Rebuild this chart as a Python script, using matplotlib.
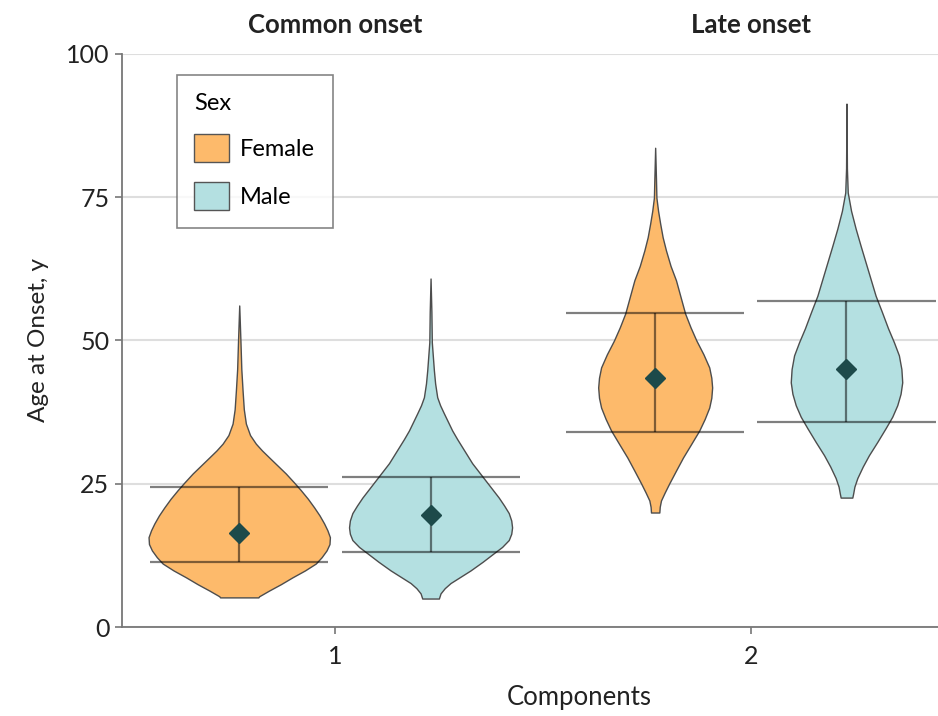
import numpy as np
import matplotlib
matplotlib.use("Agg")
import matplotlib.pyplot as plt
from matplotlib.patches import Patch

plt.rcParams["font.family"] = ["Lato", "DejaVu Sans"]

# components and sexes
components = [1, 2]
component_titles = ["Common onset", "Late onset"]
sexes = ["Female", "Male"]

# mean and error-bar ends (age at onset, y), per component then sex
means = [[16.5, 19.5], [43.4, 45.0]]
lower = [[11.3, 13.2], [34.1, 35.7]]
upper = [[24.4, 26.2], [54.8, 56.9]]

# violin outlines: age levels and half widths (x units)
f1_age = [5.2, 5.4, 6.4, 7.5, 8.7, 9.9, 11.1, 12.2, 13.4, 14.5, 15.7, 16.9, 18.1, 19.5,
          20.9, 22.4, 23.9, 25.3, 26.8, 28.2, 29.6, 30.8, 32.0, 33.5, 35.5, 38.0, 41.3,
          45.0, 49.7, 56.1]
f1_half = [0.046, 0.048, 0.072, 0.100, 0.128, 0.158, 0.184, 0.198, 0.210, 0.217, 0.218,
           0.212, 0.204, 0.193, 0.180, 0.165, 0.148, 0.131, 0.112, 0.092, 0.072, 0.055,
           0.040, 0.026, 0.016, 0.011, 0.008, 0.005, 0.003, 0.0]
m1_age = [5.0, 5.9, 6.8, 7.7, 8.8, 9.9, 11.4, 12.9, 14.0, 15.2, 16.3, 17.4, 18.6, 19.9,
          21.2, 22.6, 24.1, 25.6, 27.1, 28.6, 30.0, 31.4, 32.8, 34.3, 35.8, 37.3, 38.7,
          40.1, 42.5, 44.8, 49.7, 55.0, 60.8]
m1_half = [0.020, 0.024, 0.034, 0.048, 0.072, 0.096, 0.125, 0.152, 0.172, 0.188, 0.194,
           0.196, 0.194, 0.188, 0.177, 0.164, 0.148, 0.132, 0.116, 0.100, 0.088, 0.076,
           0.064, 0.052, 0.042, 0.032, 0.023, 0.016, 0.011, 0.008, 0.003, 0.002, 0.0]
f2_age = [20.0, 21.0, 22.1, 23.5, 25.1, 27.3, 29.6, 32.0, 34.3, 36.3, 38.3, 40.0, 41.8,
          43.5, 45.3, 47.6, 50.0, 52.3, 54.7, 57.6, 60.5, 63.0, 65.7, 68.0, 70.4, 72.6,
          74.9, 78.0, 83.6]
f2_half = [0.010, 0.011, 0.014, 0.023, 0.034, 0.050, 0.067, 0.087, 0.106, 0.119, 0.130,
           0.135, 0.137, 0.135, 0.130, 0.116, 0.099, 0.085, 0.072, 0.061, 0.050, 0.037,
           0.026, 0.018, 0.012, 0.007, 0.003, 0.002, 0.0]
m2_age = [22.6, 23.3, 24.5, 26.0, 28.0, 30.0, 32.3, 34.7, 36.7, 38.7, 40.7, 42.7, 45.0,
          47.4, 49.7, 52.1, 55.0, 57.8, 60.7, 63.6, 66.5, 69.5, 72.6, 75.8, 80.0, 91.3]
m2_half = [0.014, 0.016, 0.019, 0.026, 0.039, 0.054, 0.074, 0.094, 0.110, 0.122, 0.130,
           0.134, 0.132, 0.126, 0.114, 0.100, 0.085, 0.070, 0.058, 0.046, 0.034, 0.022,
           0.011, 0.003, 0.001, 0.0]

violins = [[(f1_age, f1_half), (m1_age, m1_half)],
           [(f2_age, f2_half), (m2_age, m2_half)]]

fills = ["#fdba6b", "#b4e0e1"]
offsets = [-0.23, 0.23]
cap_half = 0.214
text_col = "#222222"

fig = plt.figure(figsize=(9.38, 7.16), dpi=100)
ax = fig.add_axes([0.130, 0.124, 0.870, 0.801])

for ci, comp in enumerate(components):
    for si in range(len(sexes)):
        xc = comp + offsets[si]
        age, half = violins[ci][si]
        age = np.array(age)
        half = np.array(half)
        ax.fill_betweenx(age, xc - half, xc + half, facecolor=fills[si],
                         edgecolor="#4d4d4d", linewidth=1.0, zorder=2)
        # error bar with wide caps
        ax.hlines([lower[ci][si], upper[ci][si]], xc - cap_half, xc + cap_half,
                  color="black", alpha=0.5, linewidth=1.6, zorder=3)
        ax.vlines(xc, lower[ci][si], upper[ci][si], color="black", alpha=0.5,
                  linewidth=1.6, zorder=3)
        ax.plot(xc, means[ci][si], marker="D", markersize=10, color="#1d4a4a",
                zorder=4)
    ax.text(comp, 1.05, component_titles[ci], transform=ax.get_xaxis_transform(),
            ha="center", va="center", fontsize=18.5, fontweight="bold", color=text_col)

ax.set_xlim(0.488, 2.45)
ax.set_ylim(0, 100)
ax.set_yticks([0, 25, 50, 75, 100])
ax.set_xticks(components)
ax.yaxis.grid(True, color="#dedede", linewidth=1.5, zorder=0)
ax.set_axisbelow(True)
for side in ["top", "right"]:
    ax.spines[side].set_visible(False)
for side in ["left", "bottom"]:
    ax.spines[side].set_color("#777777")
    ax.spines[side].set_linewidth(1.3)
ax.tick_params(axis="both", colors="#777777", length=5, width=1.2,
               labelsize=18, labelcolor=text_col)
ax.tick_params(axis="y", pad=4)
ax.tick_params(axis="x", pad=8)
ax.set_xlabel("Components", fontsize=18.5, color=text_col)
ax.xaxis.set_label_coords(0.561, -0.1)
ax.set_ylabel("Age at Onset, y", fontsize=17.5, color=text_col, labelpad=12)

handles = [Patch(facecolor=fills[i], edgecolor="#555555", label=sexes[i])
           for i in range(len(sexes))]
leg = ax.legend(handles=handles, title="Sex", loc="upper left",
                bbox_to_anchor=(0.067, 0.963), fontsize=17,
                title_fontsize=17, frameon=True, fancybox=False,
                handlelength=1.45, handleheight=1.45, borderpad=0.75,
                labelspacing=0.85, handletextpad=0.5, borderaxespad=0)
leg._legend_box.align = "left"
leg.get_frame().set_edgecolor("#666666")
leg.get_frame().set_linewidth(1.2)

fig.savefig("out.png", dpi=100)
